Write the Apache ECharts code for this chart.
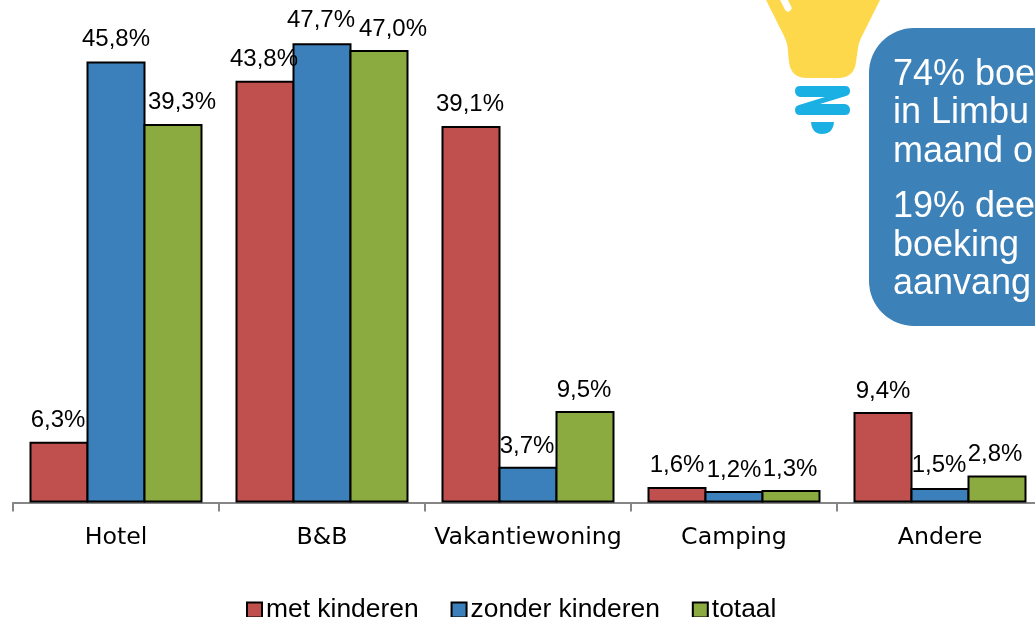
<!DOCTYPE html>
<html>
<head>
<meta charset="utf-8">
<style>html,body{margin:0;padding:0;background:#fff;overflow:hidden;width:1035px;height:617px}#c{width:1100px;height:617px}</style>
<script src="https://cdn.jsdelivr.net/npm/echarts@6/dist/echarts.min.js"></script>
</head>
<body>
<div id="c"></div>
<script>
const categories = ['Hotel', 'B&B', 'Vakantiewoning', 'Camping', 'Andere'];
const metKinderen = [6.3, 43.8, 39.1, 1.6, 9.4];
const zonderKinderen = [45.8, 47.7, 3.7, 1.2, 1.5];
const totaal = [39.3, 47.0, 9.5, 1.3, 2.8];
const seriesNames = ['met kinderen', 'zonder kinderen', 'totaal'];
const calloutLines = ['74% boe', 'in Limbu', 'maand o', '19% dee', 'boeking', 'aanvang'];

const RED = '#C0504D', BLUE = '#3B80BA', GREEN = '#8BAA40';
const sans = '"Liberation Sans", Arial, sans-serif';
const fmt = v => v.toFixed(1).replace('.', ',') + '%';

// small nudges of data labels, as placed by hand in the original
const nudges = [
  [[-1,2],[-1,2],[-1,1],[0,1],[0,2]],
  [[0,1],[-1,0],[-1,3],[0,2],[-1,0]],
  [[9,1],[14,2],[-1,2],[-1,2],[-2,2]]
];
function build(name, values, color, si) {
  return {
    name, type: 'bar', barWidth: 59, barGap: '-3.39%',
    itemStyle: { color, borderColor: '#000', borderWidth: 2 },
    label: { show: true, position: 'top', distance: 11, color: '#000', fontFamily: sans, fontSize: 24,
             formatter: p => fmt(p.value) },
    data: values.map((v, i) => ({ value: v, label: { offset: nudges[si][i] } }))
  };
}
const lineYs = [75, 113.5, 152.5, 207, 246, 284.5];

echarts.graphic.registerShape('bulbGlass', echarts.graphic.extendPath('M765 -2 L784 36 Q788 44 788 52 L789 62 Q791 78 807 78 L838 78 Q854 78 856 62 L858 48 Q859 42 861 38 L881 -2 Z', {}));
echarts.graphic.registerShape('bulbBase', echarts.graphic.extendPath('M800 86 L845 86 Q850 86 850 91 Q850 95 846 96 L820 104 L845 104 Q850 105 850 110 Q850 115 845 115 L800 115 Q795 115 795 110 Q795 106 799 105 L825 97 L800 97 Q795 96 795 91 Q795 86 800 86 Z M811 122 L834 122 Q833 134 822 134 Q812 134 811 122 Z', {}));

const chart = echarts.init(document.getElementById('c'), null, { renderer: 'canvas' });
chart.setOption({
  animation: false,
  backgroundColor: '#fff',
  grid: { left: 13, top: 21, width: 1030, height: 481.5, containLabel: false },
  xAxis: {
    type: 'category', data: categories,
    axisLine: { lineStyle: { color: '#868686', width: 2 } },
    axisTick: { show: true, length: 9, interval: 0, lineStyle: { color: '#868686', width: 2 } },
    axisLabel: { color: '#000', fontFamily: '"DejaVu Sans", sans-serif', fontSize: 23.7, margin: 23, interval: 0 }
  },
  yAxis: { type: 'value', min: 0, max: 50, show: false },
  legend: {
    left: 246, top: 597, itemWidth: 15, itemHeight: 15, itemGap: 32, padding: 0, icon: 'rect',
    textStyle: { color: '#000', fontFamily: sans, fontSize: 26.4, padding: [0, 0, 0, -1] },
    data: seriesNames
  },
  series: [
    build(seriesNames[0], metKinderen, RED, 0),
    build(seriesNames[1], zonderKinderen, BLUE, 1),
    build(seriesNames[2], totaal, GREEN, 2)
  ],
  graphic: [
    { type: 'bulbGlass', z: 5, style: { fill: '#FDD84B' } },
    { type: 'line', z: 6, shape: { x1: 783, y1: -2, x2: 788, y2: 8 }, style: { stroke: '#fff', lineWidth: 7, lineCap: 'round' } },
    { type: 'bulbBase', z: 5, style: { fill: '#1BB0E4' } },
    { type: 'rect', z: 5, shape: { x: 869, y: 28, width: 260, height: 298, r: 45 }, style: { fill: '#3D81B9' } },
    ...calloutLines.map((t, i) => ({
      type: 'text', z: 6, x: 893, y: lineYs[i],
      style: { text: t, fill: '#fff', font: '36px ' + sans, verticalAlign: 'middle' }
    }))
  ]
});
</script>
</body>
</html>
